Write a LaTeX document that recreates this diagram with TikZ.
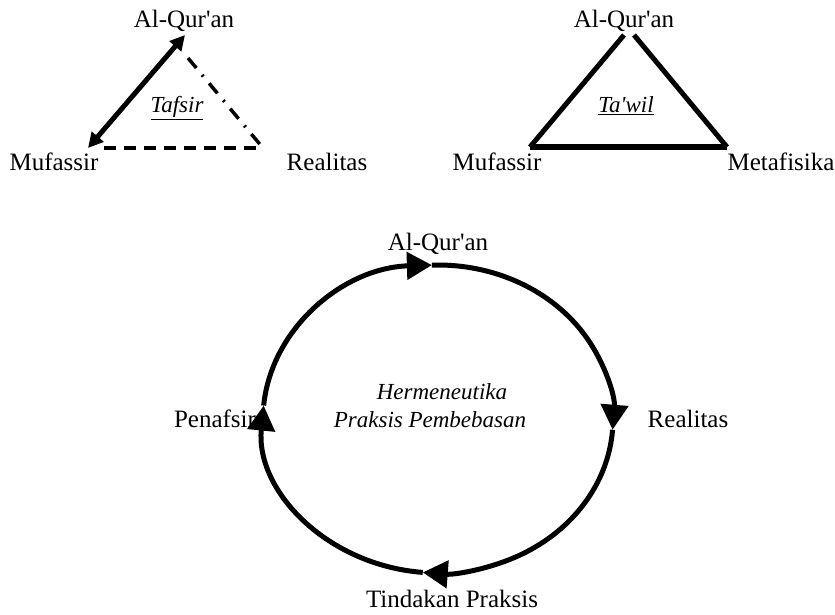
\documentclass[tikz,border=0pt]{standalone}
\usepackage{fontspec}
\setmainfont{Liberation Serif}
\usetikzlibrary{arrows.meta, calc}

\begin{document}
\begin{tikzpicture}[x=1pt, y=1pt,
    lbl/.style={font=\fontsize{25}{30}\selectfont, inner sep=0pt, anchor=base},
    tag/.style={font=\fontsize{23}{28}\selectfont\itshape, inner sep=0pt, anchor=base},
    bar/.style={line width=5pt},
    cyc/.style={line width=5pt, -{Triangle[length=25pt, width=27pt]}}]
  \useasboundingbox (0,0) rectangle (835,-615);

  % tafsir triangle
  \node[lbl] (quran1) at (184,-28) {Al-Qur\textquotesingle an};
  \node[lbl] (mufassir1) at (54,-170) {Mufassir};
  \node[lbl] (realitas1) at (327,-170) {Realitas};
  \node[tag] (tafsir) at (177,-113) {\underline{Tafsir}};
  \coordinate (q1) at (185,-35);
  \coordinate (q1d) at (188,-58);
  \coordinate (m1) at (88,-148);
  \coordinate (m1d) at (104,-148);
  \coordinate (r1) at (263,-148);
  \draw[line width=5pt, {Triangle[length=15pt, width=15pt]}-{Triangle[length=15pt, width=15pt]}] (m1) -- (q1);
  \draw[line width=3.5pt, dash pattern=on 12pt off 8pt] (m1d) -- (r1);
  \draw[line width=3.5pt, dash pattern=on 13pt off 9pt on 2pt off 9pt] (q1d) -- (r1);

  % ta'wil triangle
  \node[lbl] (quran2) at (624,-28) {Al-Qur\textquotesingle an};
  \node[lbl] (mufassir2) at (497,-170) {Mufassir};
  \node[lbl] (metafisika) at (781,-170) {Metafisika};
  \node[tag] (tawil) at (626,-113) {\underline{Ta\textquotesingle wil}};
  \coordinate (q2l) at (624,-35);
  \coordinate (q2r) at (634,-35);
  \coordinate (m2) at (530,-147);
  \coordinate (x2) at (727,-147);
  \draw[bar] (m2) -- (q2l);
  \draw[bar] (q2r) -- (x2);
  \draw[bar] (m2) -- (x2);

  % cycle of praxis
  \node[lbl] (quran3) at (438,-250) {Al-Qur\textquotesingle an};
  \node[lbl] (penafsir) at (215,-427) {Penafsir};
  \node[lbl] (realitas3) at (688,-427) {Realitas};
  \node[lbl] (tindakan) at (452,-607) {Tindakan Praksis};
  \node[tag, align=center] (herm) at (430,-427)
    {\hspace*{24pt}Hermeneutika\\Praksis Pembebasan};
  \coordinate (c) at (438,-419);
  \coordinate (cq) at ($(c)+(92:175 and 154)$);
  \coordinate (cr) at ($(c)+(-4:175 and 154)$);
  \coordinate (ct) at ($(c)+(-95:175 and 154)$);
  \coordinate (cp) at ($(c)+(175:175 and 154)$);
  \draw[cyc] (cp) arc[start angle=175, end angle=92, x radius=175, y radius=154];
  \draw[cyc] (cq) arc[start angle=92, end angle=-4, x radius=175, y radius=154];
  \draw[cyc] (cr) arc[start angle=-4, end angle=-95, x radius=175, y radius=154];
  \draw[cyc] (ct) arc[start angle=-95, end angle=-185, x radius=175, y radius=154];
\end{tikzpicture}
\end{document}
